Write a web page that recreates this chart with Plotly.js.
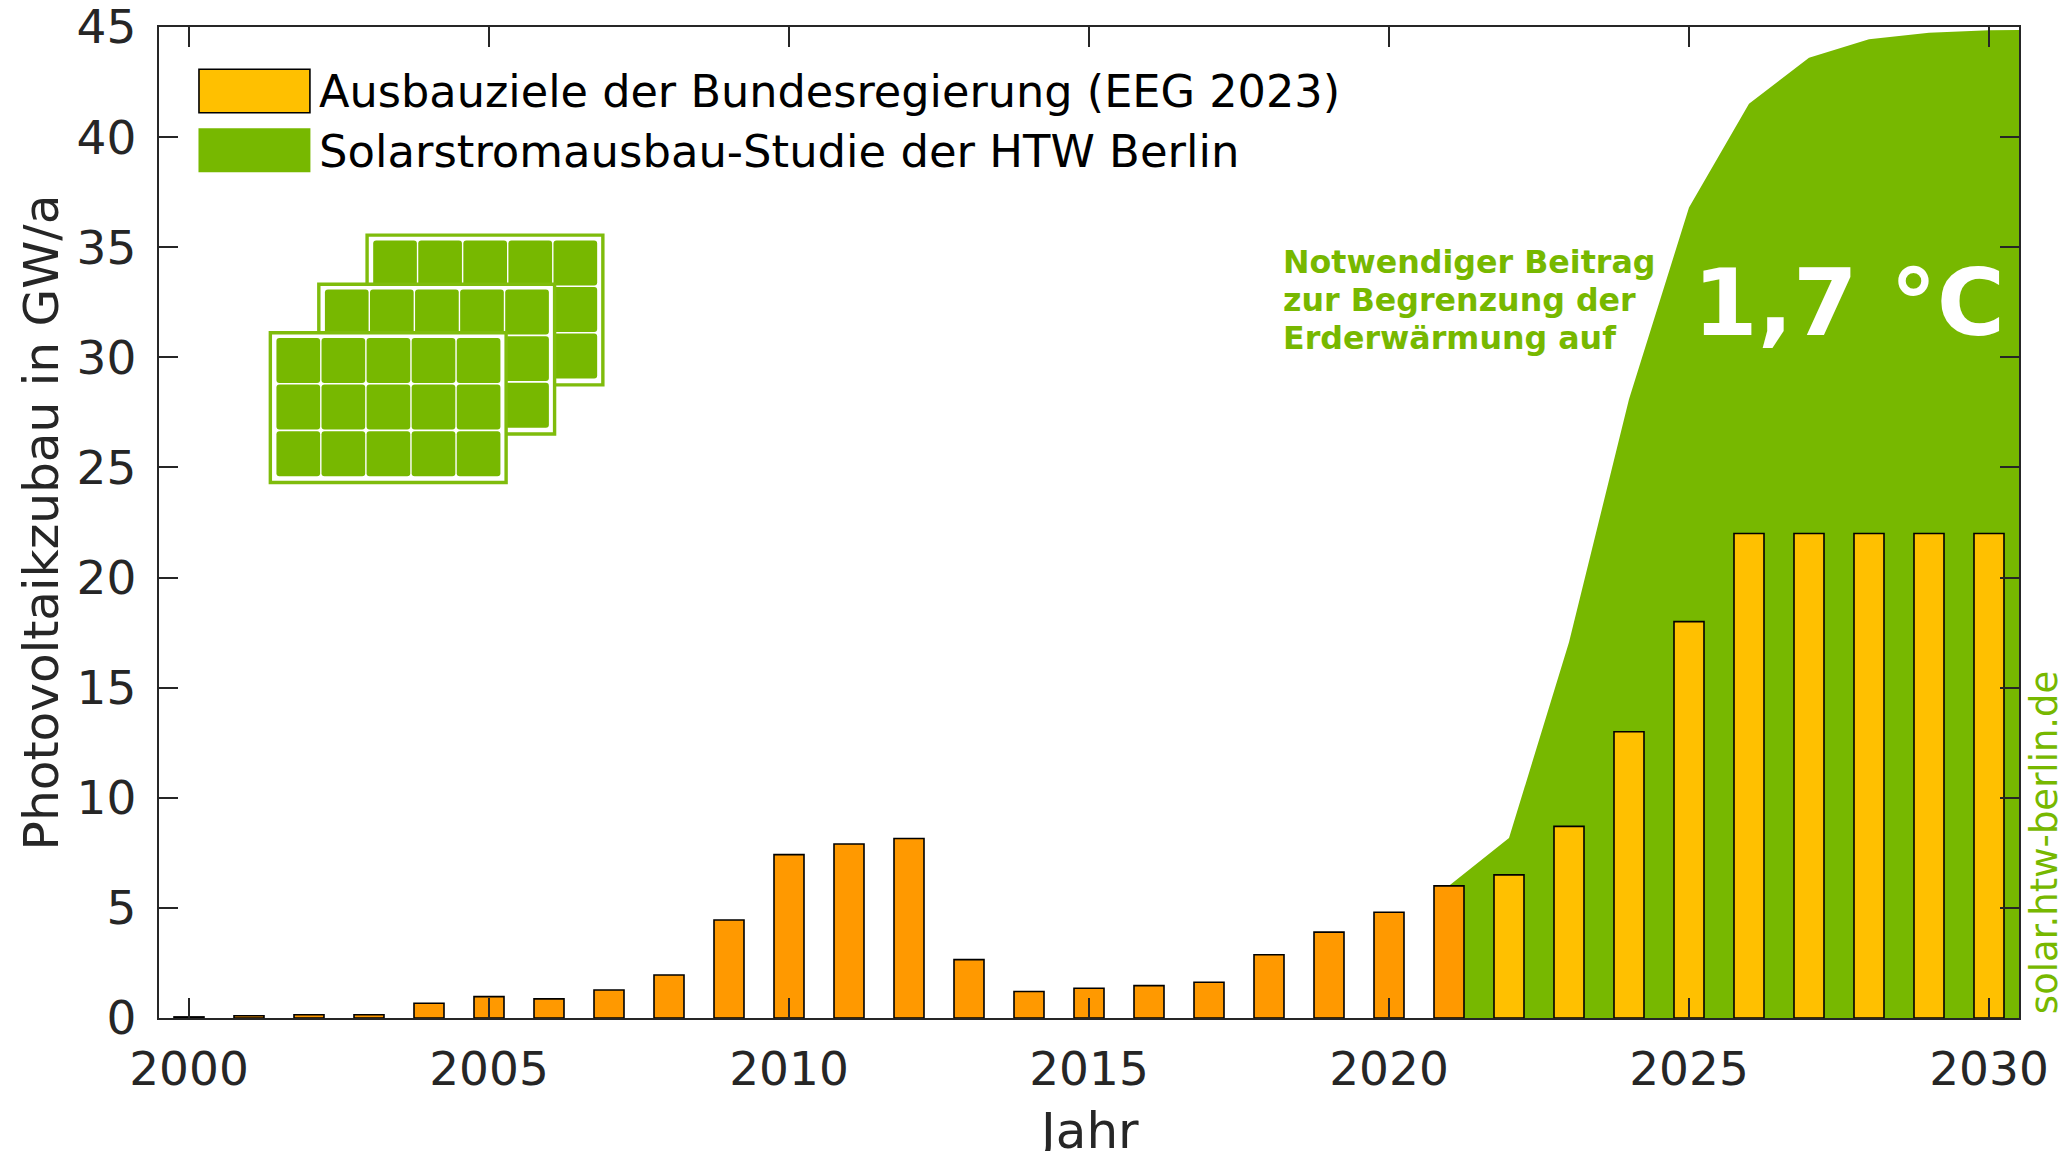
<!DOCTYPE html>
<html><head><meta charset="utf-8">
<script src="https://cdn.plot.ly/plotly-3.0.1.min.js"></script>
<style>html,body{margin:0;padding:0;background:#fff}#c{width:2064px;height:1151px}</style>
</head><body><div id="c"></div>
<script>
const actualYears=[2000,2001,2002,2003,2004,2005,2006,2007,2008,2009,2010,2011,2012,2013,2014,2015,2016,2017,2018,2019,2020,2021];
const actualValues=[0.05,0.1,0.15,0.15,0.67,0.97,0.87,1.27,1.95,4.45,7.42,7.9,8.15,2.65,1.2,1.35,1.47,1.62,2.87,3.9,4.8,6.0];
const targetYears=[2022,2023,2024,2025,2026,2027,2028,2029,2030];
const targetValues=[6.5,8.7,13,18,22,22,22,22,22];
const studyYears=[2021,2022,2023,2024,2025,2026,2027,2028,2029,2030,2031];
const studyValues=[6.0,8.17,17.06,28.1,36.8,41.52,43.6,44.44,44.74,44.85,44.88];
const xTicks=[2000,2005,2010,2015,2020,2025,2030];
const yTicks=[0,5,10,15,20,25,30,35,40,45];
const legendLabels=['Ausbauziele der Bundesregierung (EEG 2023)','Solarstromausbau-Studie der HTW Berlin'];
const noteLines=['Notwendiger Beitrag','zur Begrenzung der','Erderwärmung auf'];
const W=2064,H=1151,F='"DejaVu Sans",sans-serif';
const ML=158.5,MR=44.5,MT=26.7,MB=132.5;
const GREEN='#77B800',ORANGE='#FF9900',GOLD='#FFC000',INK='#262626';
const px=x=>(x-ML)/(W-ML-MR), py=y=>1-(y-MT)/(H-MT-MB);

const traces=[
 {type:'scatter',mode:'lines',x:studyYears,y:studyValues,fill:'tozeroy',fillcolor:GREEN,line:{color:GREEN,width:0},
  name:legendLabels[1],showlegend:false,hoverinfo:'x+y'},
 {type:'bar',x:actualYears,y:actualValues,width:0.5,yaxis:'y2',marker:{color:ORANGE,line:{color:'#000',width:1.6}},
  name:'Photovoltaikzubau',showlegend:false},
 {type:'bar',x:targetYears,y:targetValues,width:0.5,yaxis:'y2',marker:{color:GOLD,line:{color:'#000',width:1.6}},
  name:legendLabels[0],showlegend:false}
];

const shapes=[];
const rect=(x0,y0,x1,y1,fill,line,lw)=>shapes.push({type:'rect',xref:'paper',yref:'paper',x0:px(x0),x1:px(x1),y0:py(y0),y1:py(y1),
  fillcolor:fill,line:{color:line||fill,width:lw===undefined?0:lw},layer:'above'});
rect(198.5,69,309.5,112.5,GOLD,'#000',1.6);
rect(198,128,310,172,GREEN);
function cell(x,y,w,h,r){
  const X=px,Y=py;
  shapes.push({type:'path',xref:'paper',yref:'paper',layer:'above',fillcolor:GREEN,line:{width:0},
   path:`M${X(x+r)},${Y(y)} L${X(x+w-r)},${Y(y)} Q${X(x+w)},${Y(y)} ${X(x+w)},${Y(y+r)} L${X(x+w)},${Y(y+h-r)} Q${X(x+w)},${Y(y+h)} ${X(x+w-r)},${Y(y+h)} L${X(x+r)},${Y(y+h)} Q${X(x)},${Y(y+h)} ${X(x)},${Y(y+h-r)} L${X(x)},${Y(y+r)} Q${X(x)},${Y(y)} ${X(x+r)},${Y(y)} Z`});
}
function panel(ox,oy){
  rect(ox+1.7,oy+1.7,ox+237.6,oy+151.6,'#fff','#7FBC0C',3.4);
  for(let c=0;c<5;c++)for(let r=0;r<3;r++)cell(ox+7.8+c*45.1,oy+7+r*46.6,43.7,45,3);
}
panel(365,233.3);panel(316.7,282.5);panel(268.2,331);

const note=(t,x,y,size,color,bold,extra)=>Object.assign({xref:'paper',yref:'paper',x:px(x),y:py(y),text:bold?`<b>${t}</b>`:t,showarrow:false,
  xanchor:'left',yanchor:'middle',font:{family:F,size:size,color:color}},extra||{});
const annotations=[
 note(legendLabels[0],317,91.5,44.6,'#000',false),
 note(legendLabels[1],317,151,44.9,'#000',false),
 note(noteLines[0],1281,262,31.7,GREEN,true),
 note(noteLines[1],1281,300,31.7,GREEN,true),
 note(noteLines[2],1281,338,31.7,GREEN,true),
 note('1,7 °C',1691,303,93,'#fff',true),
 note('solar.htw-berlin.de',2045,842,37,GREEN,false,{xanchor:'center',textangle:-90}),
 note('Jahr',1088.5,1132,50,INK,false,{xanchor:'center'}),
];

const layout={
 width:W,height:H,paper_bgcolor:'#fff',plot_bgcolor:'#fff',showlegend:false,barmode:'overlay',
 margin:{l:ML,r:MR,t:MT,b:MB,pad:0},font:{family:F,color:INK},
 xaxis:{range:[1999.5,2030.5],tickmode:'array',tickvals:xTicks,ticktext:xTicks.map(String),ticks:'inside',ticklen:20,tickwidth:2,tickcolor:INK,
   showline:true,linecolor:INK,linewidth:2.4,mirror:'ticks',showgrid:false,zeroline:false,
   tickfont:{family:F,size:47,color:INK},ticklabelstandoff:8,ticklabeloverflow:'allow'},
 yaxis:{range:[0,45],tickmode:'array',tickvals:yTicks,ticktext:yTicks.map(String),ticks:'inside',ticklen:19,tickwidth:2.4,tickcolor:INK,
   showline:true,linecolor:INK,linewidth:2.4,mirror:'ticks',showgrid:false,zeroline:false,
   tickfont:{family:F,size:47,color:INK},ticklabelstandoff:11,ticklabeloverflow:'allow',
   title:{text:'Photovoltaikzubau in GW/a',font:{family:F,size:48.6,color:INK},standoff:3}},
 yaxis2:{range:[0,45],overlaying:'y',visible:false,showgrid:false,zeroline:false},
 shapes:shapes,annotations:annotations
};
Plotly.newPlot('c',traces,layout,{displayModeBar:false,responsive:false});
</script></body></html>
